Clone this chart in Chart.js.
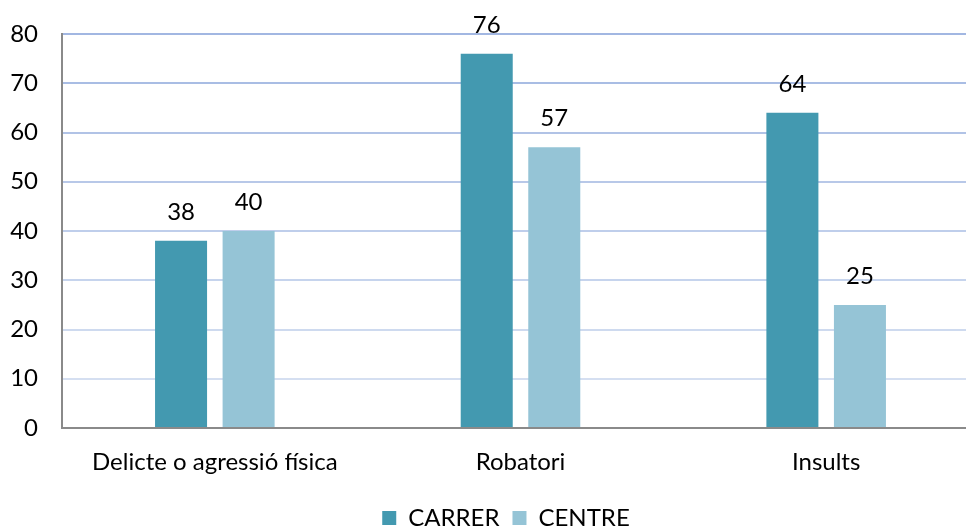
<!DOCTYPE html>
<html>
<head>
<meta charset="utf-8">
<script src="https://cdn.jsdelivr.net/npm/chart.js@4"></script>
<style>
    html, body { margin: 0; padding: 0; background: #fff; overflow: hidden; }
    #wrap { position: relative; width: 1012px; height: 527px; }
</style>
</head>
<body>
<div id="wrap"><canvas id="grafico"></canvas></div>
<script>
"use strict";

const categorias = ["Delicte o agressió física", "Robatori", "Insults"];
const valoresCarrer = [38, 76, 64];
const valoresCentre = [40, 57, 25];
const ticksY = [0, 10, 20, 30, 40, 50, 60, 70, 80];

const fuente = "Lato, 'Open Sans', sans-serif";
const tamFuente = 24;

// Etiquetas de valor encima de cada barra
const etiquetasBarras = {
    id: "etiquetasBarras",
    afterDatasetsDraw(chart) {
        const ctx = chart.ctx;
        ctx.save();
        ctx.fillStyle = "#000";
        ctx.font = tamFuente + "px " + fuente;
        ctx.textAlign = "center";
        ctx.textBaseline = "alphabetic";
        chart.data.datasets.forEach((ds, i) => {
            chart.getDatasetMeta(i).data.forEach((barra, j) => {
                ctx.fillText(String(ds.data[j]), barra.x, barra.y - 21);
            });
        });
        ctx.restore();
    }
};

// Color de la rejilla: más oscuro arriba, más claro abajo
function colorRejilla(c) {
    const t = (c.tick ? c.tick.value : 0) / 80;
    const r = Math.round(220 - t * 58);
    const g = Math.round(229 - t * 46);
    const b = Math.round(243 - t * 17);
    return `rgb(${r},${g},${b})`;
}

new Chart(document.getElementById("grafico"), {
    type: "bar",
    data: {
        labels: categorias,
        datasets: [
            { label: "CARRER", data: valoresCarrer, backgroundColor: "#4399B0" },
            { label: "CENTRE", data: valoresCentre, backgroundColor: "#95C4D6" }
        ]
    },
    options: {
        responsive: true,
        maintainAspectRatio: false,
        animation: false,
        events: [],
        layout: { padding: { top: 34, right: 10, left: 10, bottom: -13 } },
        categoryPercentage: 0.442,
        barPercentage: 0.77,
        plugins: {
            tooltip: { enabled: false },
            legend: {
                position: "bottom",
                labels: {
                    color: "#000",
                    font: { family: fuente, size: tamFuente },
                    boxWidth: 14,
                    boxHeight: 14,
                    padding: 13
                }
            }
        },
        scales: {
            x: {
                grid: { display: false, drawTicks: false },
                border: { color: "#8a8a8a", width: 2 },
                ticks: { color: "#000", font: { family: fuente, size: tamFuente }, padding: 20, maxRotation: 0 },
                afterFit: (eje) => { eje.height = 65; }
            },
            y: {
                min: 0,
                max: 80,
                afterBuildTicks: (eje) => { eje.ticks = ticksY.map(v => ({ value: v })); },
                grid: { color: colorRejilla, lineWidth: 2, drawTicks: false },
                border: { color: "#8a8a8a", width: 2 },
                ticks: { color: "#000", font: { family: fuente, size: tamFuente }, padding: 24 },
                afterFit: (eje) => { eje.width = 52; eje.paddingTop = 0; eje.paddingBottom = 0; }
            },
            // eje vacío a la derecha solo para reservar espacio
            yDer: {
                position: "right",
                min: 0,
                max: 80,
                grid: { display: false, drawTicks: false },
                border: { display: false },
                ticks: { display: false },
                afterFit: (eje) => { eje.width = 23; eje.paddingTop = 0; eje.paddingBottom = 0; }
            }
        }
    },
    plugins: [etiquetasBarras]
});
</script>
</body>
</html>
